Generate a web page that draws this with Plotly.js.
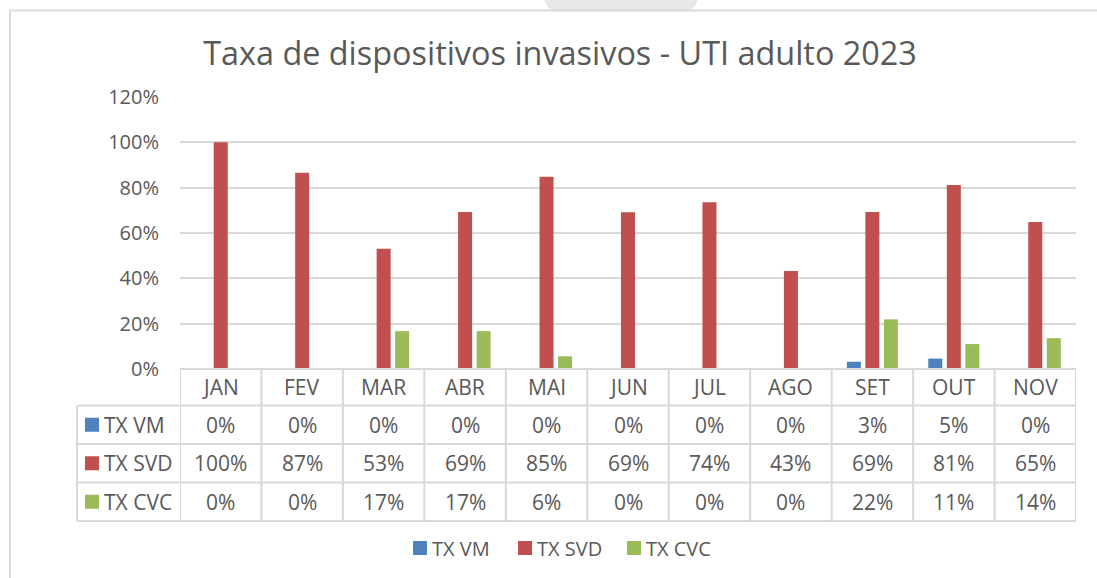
<!DOCTYPE html>
<html>
<head>
<meta charset="utf-8">
<script src="https://cdn.plot.ly/plotly-3.0.1.min.js"></script>
<style>html,body{margin:0;padding:0;background:#fff;}#chart{width:1097px;height:578px;}</style>
</head>
<body>
<div id="chart"></div>
<script>
const months = ['JAN','FEV','MAR','ABR','MAI','JUN','JUL','AGO','SET','OUT','NOV'];
const txVM  = [0, 0, 0, 0, 0, 0, 0, 0, 0.032, 0.046, 0];
const txSVD = [1.0, 0.866, 0.53, 0.693, 0.848, 0.692, 0.736, 0.432, 0.693, 0.812, 0.648];
const txCVC = [0, 0, 0.167, 0.167, 0.056, 0, 0, 0, 0.219, 0.11, 0.136];
const seriesNames = ['TX VM', 'TX SVD', 'TX CVC'];
const seriesColors = ['#4F81BD', '#C0504D', '#9BBB59'];
const yTickVals = [0, 0.2, 0.4, 0.6, 0.8, 1.0, 1.2];
const yTickText = ['0%', '20%', '40%', '60%', '80%', '100%', '120%'];

const W = 1097, H = 578;
const px = v => v / W;
const py = v => 1 - v / H;
const FONT = 'Open Sans, sans-serif';
const TXT = '#595959';
const GRID = '#D9D9D9';

const allSeries = [txVM, txSVD, txCVC];
const traces = allSeries.map((vals, k) => ({
  type: 'bar',
  name: seriesNames[k],
  x: months,
  y: vals,
  marker: {color: seriesColors[k]},
  hoverinfo: 'x+y+name',
  showlegend: false
}));

// table geometry (pixels)
const plotL = 180, plotR = 1076, plotT = 97, plotB = 369;
const rowY = [369, 405.5, 444, 482.5, 521];
const labelL = 77;

const shapes = [];
const annotations = [];
// grey tab at the top
shapes.push({type:'path', xref:'paper', yref:'paper',
  path: 'M ' + px(543) + ',' + py(-2) + ' L ' + px(547) + ',' + py(6) + ' Q ' + px(549) + ',' + py(10) + ' ' + px(556) + ',' + py(10) +
        ' L ' + px(686) + ',' + py(10) + ' Q ' + px(693) + ',' + py(10) + ' ' + px(695) + ',' + py(6) + ' L ' + px(699) + ',' + py(-2) + ' Z',
  line:{width:0}, fillcolor:'#E7E7E7', layer:'below'});
// chart outer border
shapes.push({type:'rect', xref:'paper', yref:'paper', x0:px(10), x1:px(1110), y0:py(10.5), y1:py(600),
  line:{color:'#DADADA', width:2}, fillcolor:'rgba(0,0,0,0)', layer:'below'});
// horizontal table lines
shapes.push({type:'line', xref:'paper', yref:'paper', x0:px(plotL), x1:px(plotR), y0:py(rowY[0]), y1:py(rowY[0]), line:{color:GRID, width:2}});
for (let r = 1; r < rowY.length; r++) {
  shapes.push({type:'line', xref:'paper', yref:'paper', x0:px(labelL), x1:px(plotR), y0:py(rowY[r]), y1:py(rowY[r]), line:{color:GRID, width:2}});
}
// vertical table lines at category boundaries
for (let i = 0; i <= months.length; i++) {
  shapes.push({type:'line', xref:'x', yref:'paper', x0:i - 0.5, x1:i - 0.5, y0:py(rowY[0]), y1:py(rowY[4]), line:{color:GRID, width:2}});
}
shapes.push({type:'line', xref:'paper', yref:'paper', x0:px(labelL), x1:px(labelL), y0:py(rowY[1]), y1:py(rowY[4]), line:{color:GRID, width:2}});

const TFS = 21;
// header row
months.forEach((m, i) => {
  annotations.push({xref:'x', yref:'paper', x:i, y:py((rowY[0] + rowY[1]) / 2), text:m, showarrow:false,
    xanchor:'center', yanchor:'middle', font:{family:FONT, size:TFS, color:TXT}});
});
// data rows
allSeries.forEach((vals, k) => {
  const yc = (rowY[k + 1] + rowY[k + 2]) / 2;
  shapes.push({type:'rect', xref:'paper', yref:'paper', x0:px(85), x1:px(99), y0:py(yc - 7), y1:py(yc + 7),
    line:{width:0}, fillcolor:seriesColors[k]});
  annotations.push({xref:'paper', yref:'paper', x:px(102), y:py(yc), text:seriesNames[k], showarrow:false,
    xanchor:'left', yanchor:'middle', font:{family:FONT, size:TFS, color:TXT}});
  vals.forEach((v, i) => {
    annotations.push({xref:'x', yref:'paper', x:i, y:py(yc), text:Math.round(v * 100) + '%', showarrow:false,
      xanchor:'center', yanchor:'middle', font:{family:FONT, size:TFS, color:TXT}});
  });
});

// legend (drawn by hand to match the original spacing)
const legendSq = [413, 518, 627];
const legendY = 548;
seriesNames.forEach((n, k) => {
  shapes.push({type:'rect', xref:'paper', yref:'paper', x0:px(legendSq[k]), x1:px(legendSq[k] + 14),
    y0:py(legendY - 7), y1:py(legendY + 7), line:{width:0}, fillcolor:seriesColors[k]});
  annotations.push({xref:'paper', yref:'paper', x:px(legendSq[k] + 17), y:py(legendY), text:n, showarrow:false,
    xanchor:'left', yanchor:'middle', font:{family:FONT, size:20, color:TXT}});
});

const layout = {
  width: W, height: H,
  margin: {l:0, r:0, t:0, b:0},
  paper_bgcolor: '#fff', plot_bgcolor: '#fff',
  font: {family: FONT, color: TXT},
  title: {text: 'Taxa de dispositivos invasivos - UTI adulto 2023', x: 0.5105, xanchor: 'center',
    y: py(54), yanchor: 'middle', yref: 'paper', font: {family: FONT, size: 32.4, color: TXT}},
  barmode: 'group',
  bargap: 0.318,
  bargroupgap: 0.243,
  xaxis: {domain: [px(plotL), px(plotR)], type: 'category', range: [-0.5, 10.5],
    showticklabels: false, showgrid: false, zeroline: false, showline: false, ticks: '', fixedrange: true},
  yaxis: {domain: [py(plotB), py(plotT)], range: [0, 1.2], tickvals: yTickVals, ticktext: yTickText,
    showgrid: true, gridcolor: GRID, gridwidth: 1.5, zeroline: false, showline: false, ticks: '',
    ticklabelstandoff: 20, tickfont: {family: FONT, size: 20, color: TXT}, fixedrange: true},
  showlegend: false,
  shapes: shapes,
  annotations: annotations
};

Plotly.newPlot('chart', traces, layout, {displayModeBar: false});
</script>
</body>
</html>
